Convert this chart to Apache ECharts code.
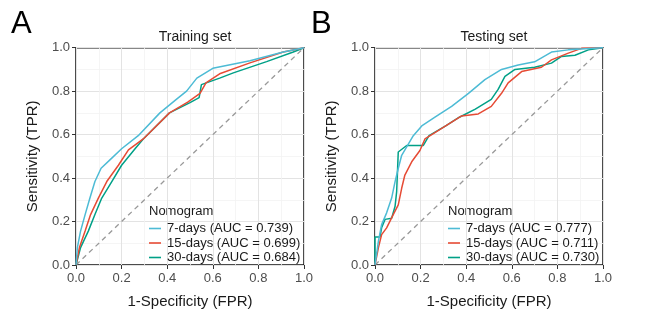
<!DOCTYPE html>
<html>
  <head>
    <title></title>
    <meta charset="UTF-8" />
    <script src="https://cdn.jsdelivr.net/npm/echarts@6/dist/echarts.min.js"></script>
  </head>
  <body style="margin:0;background:#fff">
    <div id="main"></div>
    <script>
      const width = 669;
      const height = 314;
      const main = document.getElementById('main');
      main.style.width = `${width}px`;
      main.style.height = `${height}px`;

      // ROC points [FPR, TPR]
      const train7 = [[0,0],[0.006,0.08],[0.02,0.156],[0.04,0.232],[0.061,0.308],[0.083,0.384],[0.11,0.445],[0.15,0.485],[0.2,0.535],[0.273,0.595],[0.368,0.7],[0.44,0.762],[0.485,0.8],[0.53,0.86],[0.6,0.905],[0.763,0.94],[0.909,0.98],[1,1]];
      const train15 = [[0,0],[0.015,0.08],[0.04,0.156],[0.064,0.232],[0.098,0.308],[0.135,0.384],[0.186,0.459],[0.23,0.53],[0.295,0.58],[0.41,0.7],[0.49,0.75],[0.544,0.79],[0.57,0.838],[0.63,0.88],[0.763,0.93],[0.909,0.98],[0.98,0.995],[1,1]];
      const train30 = [[0,0],[0.02,0.08],[0.054,0.156],[0.083,0.232],[0.113,0.308],[0.157,0.384],[0.2,0.459],[0.259,0.535],[0.295,0.58],[0.41,0.7],[0.5,0.747],[0.54,0.77],[0.55,0.83],[0.63,0.86],[0.69,0.884],[0.836,0.936],[0.953,0.98],[1,1]];

      const test7 = [[0,0],[0.015,0.11],[0.029,0.186],[0.051,0.24],[0.073,0.308],[0.088,0.384],[0.102,0.444],[0.117,0.505],[0.168,0.595],[0.205,0.64],[0.263,0.68],[0.336,0.73],[0.41,0.79],[0.482,0.853],[0.555,0.9],[0.628,0.92],[0.7,0.935],[0.774,0.98],[0.848,0.99],[1,1]];
      const test15 = [[0,0],[0.015,0.08],[0.029,0.14],[0.051,0.171],[0.08,0.232],[0.102,0.277],[0.117,0.353],[0.131,0.414],[0.161,0.475],[0.197,0.527],[0.219,0.58],[0.31,0.64],[0.38,0.686],[0.453,0.695],[0.51,0.73],[0.555,0.79],[0.584,0.838],[0.643,0.89],[0.73,0.91],[0.774,0.944],[0.848,0.975],[0.906,0.997],[1,1]];
      const test30 = [[0,0],[0,0.129],[0.022,0.129],[0.029,0.171],[0.044,0.21],[0.073,0.215],[0.088,0.27],[0.095,0.338],[0.1,0.338],[0.102,0.52],[0.139,0.55],[0.212,0.55],[0.237,0.595],[0.31,0.64],[0.37,0.68],[0.44,0.717],[0.51,0.762],[0.54,0.808],[0.57,0.868],[0.614,0.9],[0.7,0.91],[0.774,0.929],[0.818,0.96],[0.877,0.965],[0.936,0.99],[1,1]];

      const trainNames = ['7-days (AUC = 0.739)', '15-days (AUC = 0.699)', '30-days (AUC = 0.684)'];
      const testNames = ['7-days (AUC = 0.777)', '15-days (AUC = 0.711)', '30-days (AUC = 0.730)'];
      const colors = ['#4DBBD5', '#E64B35', '#00A087'];
      const ticks = [0, 0.2, 0.4, 0.6, 0.8, 1];

      const font = 'Liberation Sans, Arial, sans-serif';
      const grids = [
        { left: 76, top: 47.7, width: 228, height: 220 },
        { left: 375, top: 47.7, width: 228, height: 220 },
      ];

      function axis(type, i) {
        const isX = type === 'x';
        return {
          type: 'value',
          gridIndex: i,
          min: 0,
          max: 1,
          interval: 0.2,
          name: isX ? '1-Specificity (FPR)' : 'Sensitivity (TPR)',
          nameLocation: 'middle',
          nameGap: isX ? 29 : 36,
          nameTextStyle: { fontFamily: font, fontSize: 15, color: '#1a1a1a' },
          axisLine: { show: false },
          axisTick: { show: true, length: 4, lineStyle: { color: '#333', width: 1 } },
          axisLabel: {
            fontFamily: font,
            fontSize: 13,
            color: '#4d4d4d',
            margin: isX ? 7 : 6,
            formatter: (v) => (ticks.includes(+v.toFixed(1)) ? v.toFixed(1) : ''),
          },
          splitLine: { show: true, lineStyle: { color: '#e3e3e3', width: 1 } },
          minorTick: { show: false, splitNumber: 2 },
          minorSplitLine: { show: true, lineStyle: { color: '#f2f2f2', width: 0.8 } },
        };
      }

      function curves(datas, names, i) {
        const list = datas.map((d, k) => ({
          type: 'line',
          name: names[k],
          xAxisIndex: i,
          yAxisIndex: i,
          data: d,
          showSymbol: false,
          color: colors[k],
          lineStyle: { width: 1.5, color: colors[k] },
          z: 3 + (datas.length - k),
        }));
        list.push({
          type: 'line',
          name: 'ref' + i,
          xAxisIndex: i,
          yAxisIndex: i,
          data: [[0, 0], [1, 1]],
          showSymbol: false,
          silent: true,
          lineStyle: { width: 1.3, color: '#999', type: [5, 4] },
          z: 2,
        });
        return list;
      }

      function legend(names, left) {
        return {
          data: names,
          orient: 'vertical',
          left: left,
          top: 222,
          icon: 'rect',
          itemWidth: 12,
          itemHeight: 1.6,
          itemGap: 1.5,
          textStyle: { fontFamily: font, fontSize: 13, color: '#1a1a1a', padding: [0, 0, 0, 1] },
          padding: 0,
        };
      }

      const myChart = echarts.init(main);
      const option = {
        animation: false,
        backgroundColor: '#fff',
        title: [
          { text: 'Training set', left: 190, top: 25, textAlign: 'center',
            textStyle: { fontFamily: font, fontSize: 14, fontWeight: 'normal', color: '#1a1a1a' } },
          { text: 'Testing set', left: 489, top: 25, textAlign: 'center',
            textStyle: { fontFamily: font, fontSize: 14, fontWeight: 'normal', color: '#1a1a1a' } },
        ],
        grid: grids.map((g) => Object.assign({ show: true, borderColor: '#111', borderWidth: 1.5, backgroundColor: '#fff' }, g)),
        xAxis: [axis('x', 0), axis('x', 1)],
        yAxis: [axis('y', 0), axis('y', 1)],
        legend: [legend(trainNames, 149), legend(testNames, 448)],
        graphic: [
          { type: 'text', left: 11, top: 9, style: { text: 'A', fontFamily: font, fontSize: 31, fill: '#000' } },
          { type: 'text', left: 311, top: 9, style: { text: 'B', fontFamily: font, fontSize: 31, fill: '#000' } },
          { type: 'text', left: 149, top: 205, style: { text: 'Nomogram', fontFamily: font, fontSize: 13, fill: '#1a1a1a' } },
          { type: 'text', left: 448, top: 205, style: { text: 'Nomogram', fontFamily: font, fontSize: 13, fill: '#1a1a1a' } },
        ],
        series: [
          ...curves([train7, train15, train30], trainNames, 0),
          ...curves([test7, test15, test30], testNames, 1),
        ],
      };
      myChart.setOption(option);
    </script>
  </body>
</html>
